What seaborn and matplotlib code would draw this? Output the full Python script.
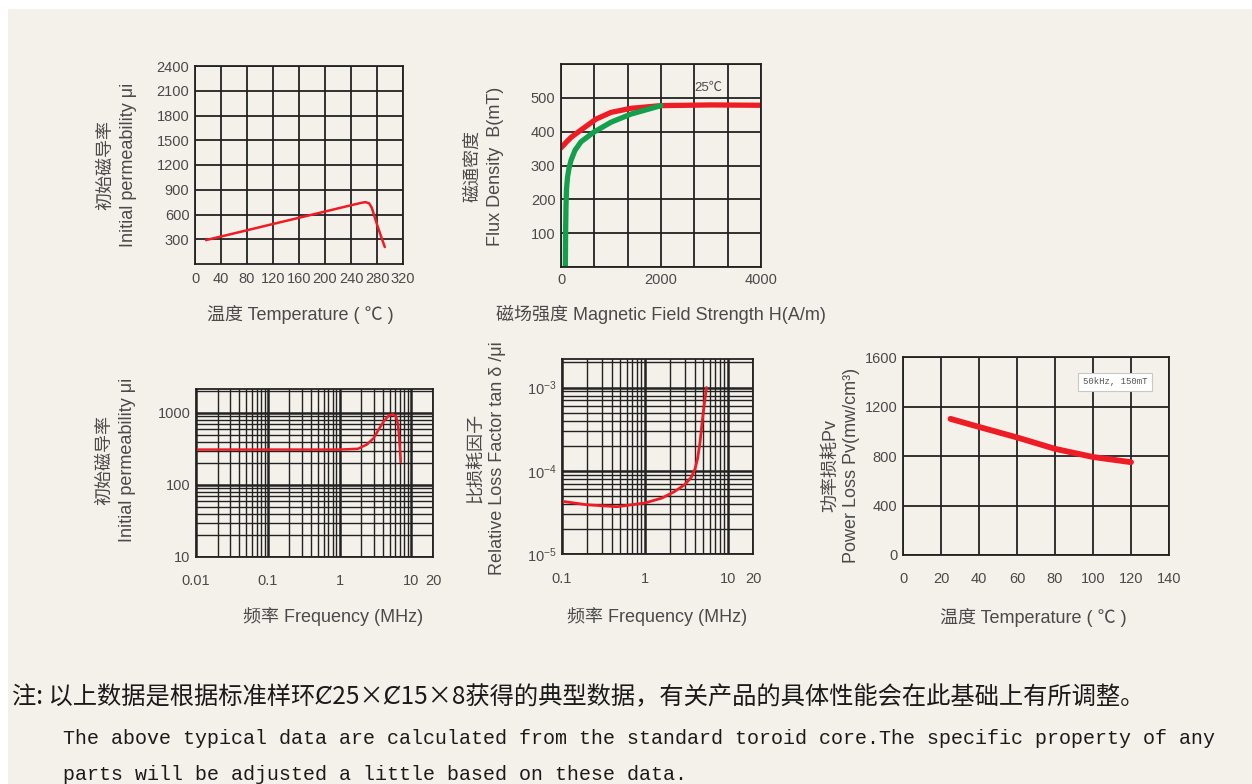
import matplotlib
matplotlib.use('Agg')
import matplotlib.pyplot as plt
import matplotlib.ticker as mticker
from matplotlib.patches import Rectangle
import seaborn as sns

# ---- data ----
# initial permeability vs temperature
temp_c = [17, 40, 80, 120, 160, 200, 240, 255, 262, 268, 272, 276, 280, 286, 292]
mu_temp = [290, 333, 409, 485, 560, 636, 712, 740, 750, 735, 680, 580, 480, 340, 205]

# B-H curves at 25C
h_red = [0, 100, 200, 400, 700, 1000, 1400, 2000, 3000, 4000]
b_red = [352, 368, 383, 405, 437, 457, 469, 477, 479, 478]
h_green = [87, 92, 100, 110, 130, 160, 200, 280, 400, 650, 1000, 1400, 2000]
b_green = [0, 100, 180, 230, 265, 292, 315, 345, 370, 398, 428, 452, 477]

# initial permeability vs frequency
freq_mu = [0.01, 0.1, 1, 1.8, 2.4, 3.0, 3.5, 4.1, 4.8, 5.5, 6.1, 6.5, 6.8, 7.1]
mu_freq = [310, 310, 310, 318, 365, 450, 590, 760, 910, 960, 900, 700, 420, 210]

# relative loss factor vs frequency
freq_loss = [0.1, 0.2, 0.46, 1.0, 1.6, 2.25, 3.0, 3.6, 4.0, 4.3, 4.6, 4.9, 5.2, 5.5]
loss = [4.3e-5, 3.9e-5, 3.7e-5, 4.1e-5, 4.7e-5, 5.6e-5, 6.8e-5, 8.3e-5,
        1.05e-4, 1.4e-4, 2.2e-4, 4.0e-4, 6.5e-4, 1.0e-3]

# power loss vs temperature
temp_pv = [25, 40, 60, 80, 100, 120]
pv = [1100, 1035, 950, 858, 792, 750]

freq_ticks = [0.01, 0.1, 1, 10, 20]
freq_ticks2 = [0.1, 1, 10, 20]

W, H = 1252, 784
CREAM = '#f4f1ea'
GRID = '#222222'
TXT = '#4a4a4a'
RED = '#ee1c25'
GREEN = '#12a04c'

sns.set_theme(style='white')
plt.rcParams['font.family'] = ['Liberation Sans', 'Noto Sans CJK SC', 'DejaVu Sans']
plt.rcParams['axes.unicode_minus'] = True


def box(left, top, right, bottom):
    return [left / W, 1 - bottom / H, (right - left) / W, (bottom - top) / H]


def ptext(fig, x, y, s, **kw):
    kw.setdefault('ha', 'center')
    kw.setdefault('va', 'center')
    kw.setdefault('color', TXT)
    return fig.text(x / W, 1 - y / H, s, **kw)


def style_axes(ax, xpad, ypad=4):
    ax.set_facecolor('none')
    for s in ax.spines.values():
        s.set_visible(True)
        s.set_color(GRID)
        s.set_linewidth(1.3)
    ax.tick_params(which='both', length=0, colors=TXT, labelsize=10.5)
    ax.tick_params(axis='x', pad=xpad)
    ax.tick_params(axis='y', pad=ypad)
    ax.set_xlabel('')
    ax.set_ylabel('')


def log_grid(ax):
    ax.grid(True, which='major', color=GRID, lw=1.8)
    ax.grid(True, which='minor', color=GRID, lw=1.0)


fig = plt.figure(figsize=(12.52, 7.84), dpi=100, facecolor='white')
fig.add_artist(Rectangle((8 / W, 0), 1, 1 - 9 / H, transform=fig.transFigure,
                         facecolor=CREAM, edgecolor='none', zorder=-10))

# 1. permeability vs temperature
ax1 = fig.add_axes(box(195, 66, 403, 264))
sns.lineplot(x=temp_c, y=mu_temp, ax=ax1, color=RED, lw=1.8, estimator=None, sort=False)
ax1.set_xlim(0, 320)
ax1.set_ylim(0, 2400)
ax1.set_xticks(range(0, 321, 40))
ax1.set_yticks(range(300, 2401, 300))
ax1.grid(True, color=GRID, lw=1.3)
style_axes(ax1, xpad=6)
ptext(fig, 300, 314, '温度 Temperature ( ℃ )', fontsize=13)
ptext(fig, 117, 165, '初始磁导率\nInitial permeability μi', rotation=90,
      fontsize=13, linespacing=1.45)

# 2. B-H curve
ax2 = fig.add_axes(box(561, 64, 761, 267))
sns.lineplot(x=h_red, y=b_red, ax=ax2, color=RED, lw=3.8, estimator=None, sort=False)
sns.lineplot(x=h_green, y=b_green, ax=ax2, color=GREEN, lw=3.8, estimator=None, sort=False)
ax2.set_xlim(0, 4000)
ax2.set_ylim(0, 600)
ax2.set_xticks([0, 2000, 4000])
ax2.xaxis.set_minor_locator(mticker.FixedLocator([i * 4000 / 6 for i in range(7)]))
ax2.set_yticks(range(100, 501, 100))
ax2.yaxis.set_minor_locator(mticker.FixedLocator([0, 600]))
ax2.grid(True, which='both', color=GRID, lw=1.3)
style_axes(ax2, xpad=4)
ax2.text(2950, 528, '25℃', fontsize=9.5, color=TXT, ha='center', va='center')
ptext(fig, 661, 314, '磁场强度 Magnetic Field Strength H(A/m)', fontsize=13)
ptext(fig, 484, 166, '磁通密度\nFlux Density  B(mT)', rotation=90,
      fontsize=13, linespacing=1.45)

# 3. permeability vs frequency
ax3 = fig.add_axes(box(196, 389, 433, 557))
ax3.set_xscale('log')
ax3.set_yscale('log')
sns.lineplot(x=freq_mu, y=mu_freq, ax=ax3, color=RED, lw=1.8, estimator=None, sort=False)
ax3.set_xlim(0.01, 20)
ax3.set_ylim(10, 2150)
ax3.xaxis.set_major_locator(mticker.FixedLocator(freq_ticks))
ax3.xaxis.set_major_formatter(mticker.FixedFormatter([str(v) for v in freq_ticks]))
ax3.xaxis.set_minor_locator(mticker.LogLocator(base=10, subs=range(2, 10)))
ax3.xaxis.set_minor_formatter(mticker.NullFormatter())
ax3.yaxis.set_major_locator(mticker.FixedLocator([10, 100, 1000]))
ax3.yaxis.set_major_formatter(mticker.FixedFormatter(['10', '100', '1000']))
ax3.yaxis.set_minor_locator(mticker.LogLocator(base=10, subs=range(2, 10)))
ax3.yaxis.set_minor_formatter(mticker.NullFormatter())
log_grid(ax3)
style_axes(ax3, xpad=12)
ptext(fig, 333, 617, '频率 Frequency (MHz)', fontsize=13)
ptext(fig, 116, 460, '初始磁导率\nInitial permeability μi', rotation=90,
      fontsize=13, linespacing=1.45)

# 4. relative loss factor vs frequency
ax4 = fig.add_axes(box(562, 359, 753, 554))
ax4.set_xscale('log')
ax4.set_yscale('log')
sns.lineplot(x=freq_loss, y=loss, ax=ax4, color=RED, lw=2.0, estimator=None, sort=False)
ax4.set_xlim(0.1, 20)
ax4.set_ylim(1e-5, 2.2e-3)
ax4.xaxis.set_major_locator(mticker.FixedLocator(freq_ticks2))
ax4.xaxis.set_major_formatter(mticker.FixedFormatter([str(v) for v in freq_ticks2]))
ax4.xaxis.set_minor_locator(mticker.LogLocator(base=10, subs=range(2, 10)))
ax4.xaxis.set_minor_formatter(mticker.NullFormatter())
ax4.yaxis.set_major_locator(mticker.FixedLocator([1e-5, 1e-4, 1e-3]))
ax4.yaxis.set_major_formatter(mticker.LogFormatterSciNotation())
ax4.yaxis.set_minor_locator(mticker.LogLocator(base=10, subs=range(2, 10)))
ax4.yaxis.set_minor_formatter(mticker.NullFormatter())
log_grid(ax4)
style_axes(ax4, xpad=13)
ptext(fig, 657, 617, '频率 Frequency (MHz)', fontsize=13)
ptext(fig, 487, 458, '比损耗因子\nRelative Loss Factor tan δ /μi', rotation=90,
      fontsize=13, linespacing=1.3)

# 5. power loss vs temperature
ax5 = fig.add_axes(box(903, 357, 1169, 555))
sns.lineplot(x=temp_pv, y=pv, ax=ax5, color=RED, lw=4.2, estimator=None, sort=False)
ax5.set_xlim(0, 140)
ax5.set_ylim(0, 1600)
ax5.set_xticks(range(0, 141, 20))
ax5.set_yticks(range(0, 1601, 400))
ax5.grid(True, color=GRID, lw=1.3)
style_axes(ax5, xpad=12)
ax5.text(111.5, 1398, '50kHz, 150mT', fontsize=6.5, family='Liberation Mono',
         color='#555555', ha='center', va='center',
         bbox=dict(boxstyle='square,pad=0.5', fc='white', ec='#c8c8c8', lw=0.8))
ptext(fig, 1033, 617, '温度 Temperature ( ℃ )', fontsize=13)
ptext(fig, 841, 465, '功率损耗Pv\nPower Loss Pv(mw/cm³)', rotation=90,
      fontsize=13, linespacing=1.3)

# notes
ptext(fig, 12, 697, '注: 以上数据是根据标准样环Ȼ25×Ȼ15×8获得的典型数据，有关产品的具体性能会在此基础上有所调整。',
      ha='left', fontsize=17.5, color='#1a1a1a',
      family=['Noto Sans CJK SC', 'DejaVu Sans'])
ptext(fig, 63, 738, 'The above typical data are calculated from the standard toroid core.'
      'The specific property of any', ha='left', fontsize=14.4, color='#1a1a1a',
      family='Liberation Mono')
ptext(fig, 63, 775, 'parts will be adjusted a little based on these data.',
      ha='left', fontsize=14.4, color='#1a1a1a', family='Liberation Mono')

fig.savefig('out.png', dpi=100, facecolor=fig.get_facecolor())
